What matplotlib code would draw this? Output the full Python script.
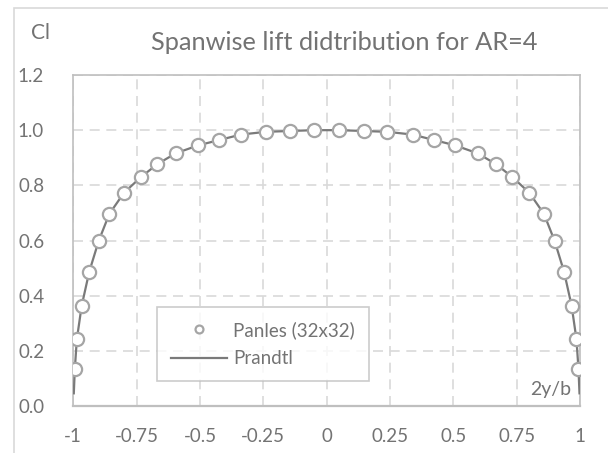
import matplotlib
matplotlib.use('Agg')
import matplotlib.pyplot as plt
from matplotlib.patches import Rectangle

plt.rcParams['font.family'] = ['Lato', 'DejaVu Sans']
plt.rcParams['font.weight'] = 'normal'

# panel method results
span_pos = [-0.994, -0.986, -0.967, -0.937, -0.900, -0.858, -0.800, -0.733,
            -0.668, -0.596, -0.507, -0.425, -0.339, -0.240, -0.146, -0.049,
            0.049, 0.146, 0.240, 0.339, 0.425, 0.507, 0.596, 0.668,
            0.733, 0.800, 0.858, 0.900, 0.937, 0.967, 0.986, 0.994]
cl_panels = [0.134, 0.242, 0.363, 0.487, 0.598, 0.696, 0.773, 0.830,
             0.877, 0.916, 0.945, 0.964, 0.984, 0.994, 0.997, 1.000,
             1.000, 0.997, 0.994, 0.984, 0.964, 0.945, 0.916, 0.877,
             0.830, 0.773, 0.696, 0.598, 0.487, 0.363, 0.242, 0.134]

# Prandtl lifting line curve
prandtl_pos = [-0.998] + span_pos + [0.998]
cl_prandtl = [0.046] + cl_panels + [0.046]

x_ticks = [-1, -0.75, -0.5, -0.25, 0, 0.25, 0.5, 0.75, 1]
x_labels = ['-1', '-0.75', '-0.5', '-0.25', '0', '0.25', '0.5', '0.75', '1']
y_ticks = [0.0, 0.2, 0.4, 0.6, 0.8, 1.0, 1.2]

txt_col = '#737373'
grid_col = '#d9d9d9'

fig = plt.figure(figsize=(6.08, 4.53), dpi=100)
# outer chart frame (cut off at the right and bottom)
fig.patches.append(Rectangle((14 / 608, -0.1), 1.0, (453 - 8) / 453 + 0.1,
                             transform=fig.transFigure, fill=False,
                             edgecolor=grid_col, lw=1.2))

ax = fig.add_axes([73.3 / 608, (453 - 406) / 453, (580 - 73.3) / 608, (406 - 75) / 453])

ax.plot(prandtl_pos, cl_prandtl, color='#7a7a7a', lw=1.6, label='Prandtl', zorder=3)
ax.plot(span_pos, cl_panels, ls='none', marker='o', ms=9.5, mfc='white',
        mec='#a5a5a5', mew=1.6, label='Panles (32x32)', zorder=4)

ax.set_xlim(-1, 1)
ax.set_ylim(0, 1.2)
ax.set_xticks(x_ticks)
ax.set_xticklabels(x_labels)
ax.set_yticks(y_ticks)
ax.set_yticklabels([f'{v:.1f}' for v in y_ticks])
ax.tick_params(length=0, labelsize=13.5, colors=txt_col)
ax.tick_params(axis='x', pad=16)
ax.tick_params(axis='y', pad=21)

ax.grid(True, color=grid_col, ls=(0, (6, 4)), lw=1.2)
for s in ax.spines.values():
    s.set_color('#bfbfbf')
    s.set_linewidth(1.2)
ax.spines['bottom'].set_linewidth(1.6)

handles, labels = ax.get_legend_handles_labels()
leg = ax.legend(handles[::-1], labels[::-1], loc='upper left',
                bbox_to_anchor=((157 - 73.3) / 506.7, (406 - 307) / 331),
                frameon=True, fancybox=False, fontsize=13.5, markerscale=0.6,
                handlelength=3.0, borderpad=0.75, labelspacing=0.6,
                handletextpad=0.3, borderaxespad=0)
leg.get_frame().set_edgecolor('#bfbfbf')
leg.get_frame().set_linewidth(1.2)
for t in leg.get_texts():
    t.set_color(txt_col)

fig.text(344 / 608, 1 - 43 / 453, 'Spanwise lift didtribution for AR=4',
         ha='center', va='center', fontsize=18.3, color=txt_col)
fig.text(41 / 608, 1 - 33 / 453, 'Cl', ha='center', va='center',
         fontsize=15, color=txt_col)
ax.text(0.983, 0.05, '2y/b', transform=ax.transAxes, ha='right', va='center',
        fontsize=14, color=txt_col)

fig.savefig('out.png', dpi=100)
